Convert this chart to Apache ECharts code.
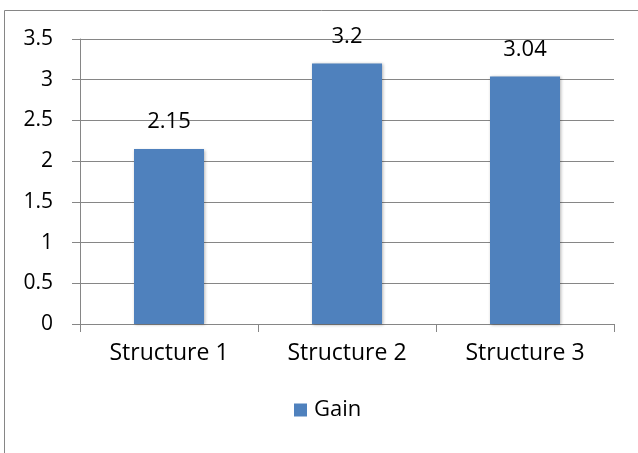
<!DOCTYPE html>
<html>
<head>
<meta charset="utf-8">
<script src="https://cdn.jsdelivr.net/npm/echarts@6/dist/echarts.min.js"></script>
<style>
  html, body { margin: 0; padding: 0; background: #fff; }
  #chart { width: 638px; height: 453px; }
</style>
</head>
<body>
<div id="chart"></div>
<script>
var categories = ['Structure 1', 'Structure 2', 'Structure 3']
var gainValues = [2.15, 3.2, 3.04]
var yTicks = [0, 0.5, 1, 1.5, 2, 2.5, 3, 3.5]

var font = "'Open Sans', sans-serif"
var gray = '#868686'

var chart = echarts.init(document.getElementById('chart'))
chart.setOption({
  animation: false,
  textStyle: { fontFamily: font },
  grid: { left: 80, right: 24, top: 39, bottom: 129 },
  // frame around the chart area
  graphic: [{
    type: 'rect',
    shape: { x: 4.5, y: 10.5, width: 700, height: 500 },
    style: { fill: 'none', stroke: gray, lineWidth: 1 },
    silent: true
  }],
  legend: {
    bottom: 27,
    left: 289,
    itemWidth: 13,
    itemHeight: 13,
    itemGap: 8,
    icon: 'rect',
    data: ['Gain'],
    textStyle: { fontFamily: font, fontSize: 22, color: '#000', padding: [0, 0, 0, 2] }
  },
  xAxis: {
    type: 'category',
    data: categories,
    axisLine: { lineStyle: { color: gray, width: 1 } },
    axisTick: { show: true, length: 8, lineStyle: { color: gray } },
    axisLabel: { margin: 18, fontFamily: font, fontSize: 23, color: '#000' }
  },
  yAxis: {
    type: 'value',
    min: yTicks[0],
    max: yTicks[yTicks.length - 1],
    interval: 0.5,
    axisLine: { show: true, lineStyle: { color: gray, width: 1 } },
    axisTick: { show: true, length: 8, lineStyle: { color: gray } },
    splitLine: { lineStyle: { color: gray, width: 1 } },
    axisLabel: { margin: 27, fontFamily: font, fontSize: 21, color: '#000' }
  },
  series: [{
    name: 'Gain',
    type: 'bar',
    data: gainValues,
    barWidth: 70,
    itemStyle: {
      color: '#4F81BD',
      shadowBlur: 3,
      shadowColor: 'rgba(0,0,0,0.3)',
      shadowOffsetX: 1,
      shadowOffsetY: 1
    },
    label: {
      show: true,
      position: 'top',
      distance: 16,
      fontFamily: font,
      fontSize: 22,
      color: '#000'
    }
  }]
})
</script>
</body>
</html>
